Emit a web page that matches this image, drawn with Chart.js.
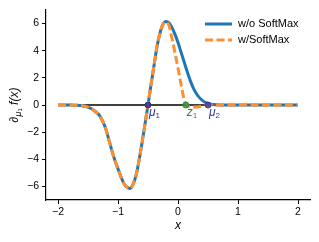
<!DOCTYPE html>
<html>
<head>
<meta charset="utf-8">
<script src="https://cdn.jsdelivr.net/npm/chart.js@4.4.0/dist/chart.umd.min.js"></script>
<style>
html, body { margin: 0; padding: 0; background: #fff; }
#wrap { width: 319px; height: 242px; }
</style>
</head>
<body>
<div id="wrap"><canvas id="c" width="319" height="242"></canvas></div>
<script>
// x positions of the sampled curve
const xs = [-2.0, -1.9, -1.8, -1.7, -1.65, -1.6, -1.55, -1.5, -1.45, -1.4, -1.35, -1.3, -1.25, -1.2,
    -1.15, -1.1, -1.05, -1.0, -0.95, -0.9, -0.85, -0.8, -0.75, -0.7, -0.65, -0.6, -0.55, -0.5,
    -0.45, -0.4, -0.35, -0.3, -0.25, -0.2, -0.15, -0.1, -0.05, 0.0, 0.05, 0.1, 0.15, 0.2, 0.25,
    0.3, 0.35, 0.4, 0.45, 0.5, 0.55, 0.6, 0.65, 0.7, 0.8, 0.9, 1.0, 1.1, 1.2, 1.3, 1.4, 1.5,
    1.6, 1.7, 1.8, 1.9, 2.0];

// w/o SoftMax (solid blue)
const noSoftmax = [0, 0, 0, -0.01, -0.03, -0.05, -0.09, -0.16, -0.26, -0.40, -0.58, -0.82, -1.25, -1.8,
    -2.6, -3.4, -4.1, -4.7, -5.3, -5.8, -6.05, -6.15, -5.85, -5.2, -4.1, -2.8, -1.4, 0,
    1.5, 2.9, 4.3, 5.3, 5.95, 6.15, 6.05, 5.7, 5.2, 4.6, 3.9, 3.2, 2.5, 1.85, 1.3,
    0.88, 0.58, 0.36, 0.2, 0.11, 0.06, 0.03, 0.01, 0, 0, 0, 0, 0, 0, 0, 0, 0,
    0, 0, 0, 0, 0];

// w/SoftMax (dashed orange)
const withSoftmax = [0, 0, 0, -0.01, -0.03, -0.05, -0.09, -0.16, -0.26, -0.40, -0.58, -0.82, -1.25, -1.8,
    -2.6, -3.4, -4.1, -4.7, -5.3, -5.8, -6.05, -6.15, -5.85, -5.2, -4.1, -2.8, -1.4, 0,
    1.5, 2.9, 4.3, 5.3, 5.95, 6.12, 5.85, 4.9, 3.85, 2.7, 1.55, 0.45, -0.05, -0.12, -0.15,
    -0.15, -0.12, -0.08, -0.03, 0, 0, 0, 0, 0, 0, 0, 0, 0, 0, 0, 0, 0,
    0, 0, 0, 0, 0];

const zeroLineX = [-2, 2];

// special points on the zero line
const markerX = [-0.5, 0.13, 0.5];
const markerSym = ['\u03bc', 'z', '\u03bc'];
const markerSub = ['1', '1', '2'];
const markerColor = ['#2c2f8f', '#2e8b3c', '#3a3a9a'];

const xTicks = [-2, -1, 0, 1, 2];
const yTicks = [-6, -4, -2, 0, 2, 4, 6];

const seriesNames = ['w/o SoftMax', 'w/SoftMax'];

const BLUE = '#1f77b4';
const ORANGE = '#ff8f2e';
const FONT = "'Liberation Sans', Arial, sans-serif";

function fmt(v) {
    return v < 0 ? '\u2212' + Math.abs(v) : String(v);
}

// labels next to the markers, legend and axis titles
const annotate = {
    id: 'annotate',
    afterDatasetsDraw(chart) {
        const ctx = chart.ctx;
        const xs_ = chart.scales.x, ys_ = chart.scales.y;
        ctx.save();
        // marker labels
        ctx.textBaseline = 'alphabetic';
        markerX.forEach((mx, i) => {
            const px = xs_.getPixelForValue(mx) + 1;
            const py = ys_.getPixelForValue(0) + 11;
            ctx.fillStyle = markerColor[i];
            ctx.font = 'italic 12px ' + FONT;
            ctx.textAlign = 'left';
            ctx.fillText(markerSym[i], px, py);
            const w = ctx.measureText(markerSym[i]).width;
            ctx.font = '8px ' + FONT;
            ctx.fillText(markerSub[i], px + w, py + 2);
        });

        // legend
        const lx = 205, lx2 = 232;
        const rows = [24, 40];
        ctx.lineWidth = 3;
        ctx.strokeStyle = BLUE;
        ctx.setLineDash([]);
        ctx.beginPath(); ctx.moveTo(lx, rows[0]); ctx.lineTo(lx2, rows[0]); ctx.stroke();
        ctx.strokeStyle = ORANGE;
        ctx.setLineDash([8, 3.5]);
        ctx.beginPath(); ctx.moveTo(lx, rows[1]); ctx.lineTo(lx2, rows[1]); ctx.stroke();
        ctx.setLineDash([]);
        ctx.fillStyle = '#000';
        ctx.font = '11px ' + FONT;
        ctx.textBaseline = 'middle';
        ctx.fillText(seriesNames[0], 238, rows[0]);
        ctx.fillText(seriesNames[1], 238, rows[1]);

        // x axis title
        ctx.font = 'italic 12px ' + FONT;
        ctx.textAlign = 'center';
        ctx.textBaseline = 'middle';
        ctx.fillText('x', xs_.getPixelForValue(0), 226);

        // y axis title: ∂_{μ1} f(x)
        ctx.translate(15, (chart.chartArea.top + chart.chartArea.bottom) / 2);
        ctx.rotate(-Math.PI / 2);
        const parts = [
            { t: '\u2202', f: '12px ' + FONT, dy: 0 },
            { t: '\u03bc', f: 'italic 9px ' + FONT, dy: 3 },
            { t: '1', f: '6px ' + FONT, dy: 5 },
            { t: ' f(x)', f: 'italic 12px ' + FONT, dy: 0 }
        ];
        let total = 0;
        parts.forEach(p => { ctx.font = p.f; p.w = ctx.measureText(p.t).width; total += p.w; });
        let cx = -total / 2;
        ctx.textAlign = 'left';
        ctx.textBaseline = 'middle';
        parts.forEach(p => {
            ctx.font = p.f;
            ctx.fillText(p.t, cx, p.dy);
            cx += p.w;
        });
        ctx.restore();
    }
};

new Chart(document.getElementById('c'), {
    type: 'line',
    data: {
        datasets: [
            {
                label: 'markers',
                type: 'scatter',
                data: markerX.map(x => ({ x: x, y: 0 })),
                pointRadius: 3,
                pointBackgroundColor: markerColor.map(c => c + 'cc'),
                pointBorderColor: markerColor,
                pointBorderWidth: 1,
                order: -1
            },
            {
                label: seriesNames[1],
                data: xs.map((x, i) => ({ x: x, y: withSoftmax[i] })),
                borderColor: ORANGE,
                borderWidth: 3,
                borderDash: [8, 3.5],
                pointRadius: 0,
                cubicInterpolationMode: 'monotone',
                order: 0
            },
            {
                label: seriesNames[0],
                data: xs.map((x, i) => ({ x: x, y: noSoftmax[i] })),
                borderColor: BLUE,
                borderWidth: 3,
                pointRadius: 0,
                cubicInterpolationMode: 'monotone',
                order: 1
            },
            {
                label: 'zero',
                data: zeroLineX.map(x => ({ x: x, y: 0 })),
                borderColor: '#000',
                borderWidth: 1.5,
                pointRadius: 0,
                order: 2
            }
        ]
    },
    options: {
        responsive: false,
        animation: false,
        devicePixelRatio: 1,
        layout: { padding: { top: 10, right: 9, left: 0, bottom: 0 } },
        plugins: {
            legend: { display: false },
            tooltip: { enabled: false }
        },
        scales: {
            x: {
                type: 'linear',
                min: -2.2,
                max: 2.2,
                afterFit: s => { s.height = 42; },
                afterBuildTicks: s => { s.ticks = xTicks.map(v => ({ value: v })); },
                ticks: { color: '#000', font: { family: FONT, size: 10.5 }, padding: 2, maxRotation: 0, callback: fmt },
                grid: { drawOnChartArea: false, tickLength: 4, tickColor: '#000', tickWidth: 1 },
                border: { color: '#000', width: 1.2 }
            },
            y: {
                type: 'linear',
                min: -7,
                max: 7,
                afterFit: s => { s.width = 46; },
                afterBuildTicks: s => { s.ticks = yTicks.map(v => ({ value: v })); },
                ticks: { color: '#000', font: { family: FONT, size: 10.5 }, padding: 3, callback: fmt },
                grid: { drawOnChartArea: false, tickLength: 4, tickColor: '#000', tickWidth: 1 },
                border: { color: '#000', width: 1.2 }
            }
        }
    },
    plugins: [annotate]
});
</script>
</body>
</html>
